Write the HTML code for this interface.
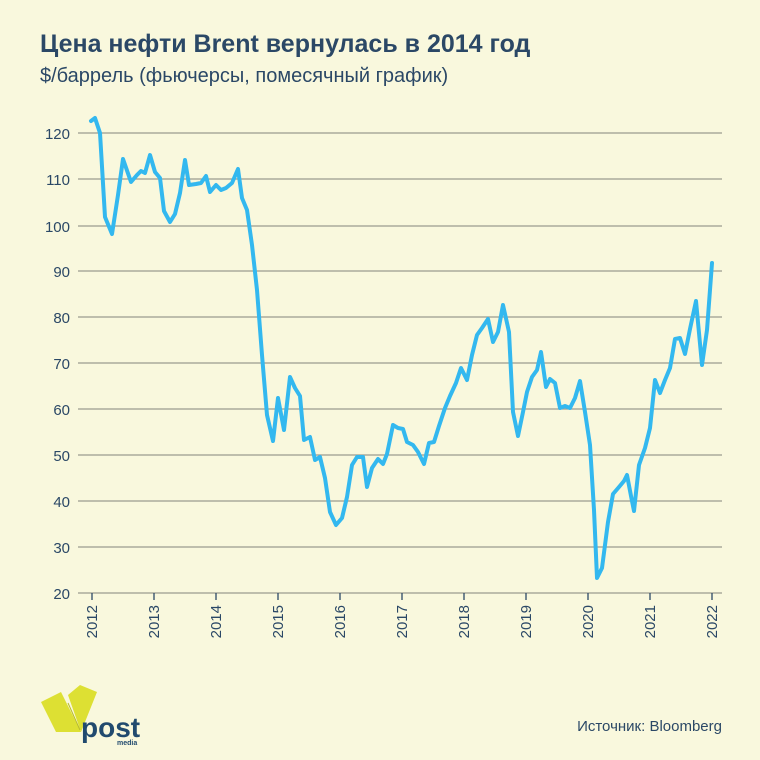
<!DOCTYPE html>
<html><head><meta charset="utf-8"><style>
body{margin:0;width:760px;height:760px;background:#f9f8dd;overflow:hidden}
svg{display:block}
</style></head><body>
<svg width="760" height="760" xmlns="http://www.w3.org/2000/svg" font-family="Liberation Sans, DejaVu Sans, sans-serif">
<rect width="760" height="760" fill="#f9f8dd"/>
<text x="40" y="52" font-size="25" font-weight="bold" fill="#2b4866">Цена нефти Brent вернулась в 2014 год</text>
<text x="40" y="82" font-size="20" fill="#2b4866">$/баррель (фьючерсы, помесячный график)</text>
<g stroke="#9a9a90" stroke-width="1.3">
<line x1="78" x2="722" y1="133" y2="133"/><line x1="78" x2="722" y1="179" y2="179"/>
<line x1="78" x2="722" y1="226" y2="226"/><line x1="78" x2="722" y1="271" y2="271"/>
<line x1="78" x2="722" y1="317" y2="317"/><line x1="78" x2="722" y1="363" y2="363"/>
<line x1="78" x2="722" y1="409" y2="409"/><line x1="78" x2="722" y1="455" y2="455"/>
<line x1="78" x2="722" y1="501" y2="501"/><line x1="78" x2="722" y1="547" y2="547"/>
<line x1="78" x2="722" y1="593" y2="593"/>
</g>
<g stroke="#2b4866" stroke-width="1.3">
<line x1="92" x2="92" y1="593" y2="600"/><line x1="154" x2="154" y1="593" y2="600"/><line x1="216" x2="216" y1="593" y2="600"/><line x1="278" x2="278" y1="593" y2="600"/><line x1="340" x2="340" y1="593" y2="600"/><line x1="402" x2="402" y1="593" y2="600"/><line x1="464" x2="464" y1="593" y2="600"/><line x1="526" x2="526" y1="593" y2="600"/><line x1="588" x2="588" y1="593" y2="600"/><line x1="650" x2="650" y1="593" y2="600"/><line x1="712" x2="712" y1="593" y2="600"/>
</g>
<g font-size="15" fill="#2b4866" text-anchor="end">
<text x="70" y="139">120</text><text x="70" y="185">110</text><text x="70" y="232">100</text>
<text x="70" y="277">90</text><text x="70" y="323">80</text><text x="70" y="369">70</text>
<text x="70" y="415">60</text><text x="70" y="461">50</text><text x="70" y="507">40</text>
<text x="70" y="553">30</text><text x="70" y="599">20</text>
</g>
<g font-size="15" fill="#2b4866" text-anchor="end">
<text transform="translate(97,605) rotate(-90)">2012</text>
<text transform="translate(159,605) rotate(-90)">2013</text>
<text transform="translate(221,605) rotate(-90)">2014</text>
<text transform="translate(283,605) rotate(-90)">2015</text>
<text transform="translate(345,605) rotate(-90)">2016</text>
<text transform="translate(407,605) rotate(-90)">2017</text>
<text transform="translate(469,605) rotate(-90)">2018</text>
<text transform="translate(531,605) rotate(-90)">2019</text>
<text transform="translate(593,605) rotate(-90)">2020</text>
<text transform="translate(655,605) rotate(-90)">2021</text>
<text transform="translate(717,605) rotate(-90)">2022</text>
</g>
<polyline fill="none" stroke="#33b8ef" stroke-width="4" stroke-linejoin="round" stroke-linecap="round" points="91,121 95,118 100,133 105,217 112,234 118,195 123,159 131,182 137,175 141,171 145,173 150,155 155,172 160,178 164,211 170,222 175,214 180,193 185,160 189,185 196,184 201,183 206,176 210,192 216,185 221,190 226,188 232,183 238,169 242,198 247,210 252,245 257,290 262,355 267,415 273,441 278,398 284,430 290,377 295,388 300,396 304,440 310,437 315,460 320,457 325,478 330,512 336,525 342,518 347,497 352,465 357,457 363,457 367,487 372,468 378,459 383,464 387,454 393,425 398,428 403,429 407,442 413,445 418,452 424,464 429,443 434,442 439,426 445,408 450,396 456,383 461,368 467,380 472,355 477,335 482,328 488,319 493,342 498,332 503,305 509,332 513,412 518,436 523,412 527,392 532,377 537,370 541,352 546,387 550,379 555,383 560,408 565,406 570,408 575,398 580,381 585,412 590,445 594,510 597,578 602,568 608,522 613,494 619,487 624,481 627,475 631,496 634,511 639,465 645,448 650,428 655,380 660,393 665,380 670,368 675,339 680,338 685,354 690,329 696,301 702,365 707,330 712,263"/>
<polygon points="41,702 61,692 81,732 56,732" fill="#dde033"/>
<polygon points="68,695 80,685 97,692 81,732" fill="#dde033"/>
<line x1="68" y1="703" x2="80" y2="730" stroke="#b8bb2a" stroke-width="1"/>
<text x="81" y="737" font-size="28" font-weight="bold" fill="#214a6e">post</text>
<text x="117" y="745" font-size="7" font-weight="bold" fill="#214a6e">media</text>
<text x="722" y="731" font-size="15" fill="#2b4866" text-anchor="end">Источник: Bloomberg</text>
</svg>
</body></html>
